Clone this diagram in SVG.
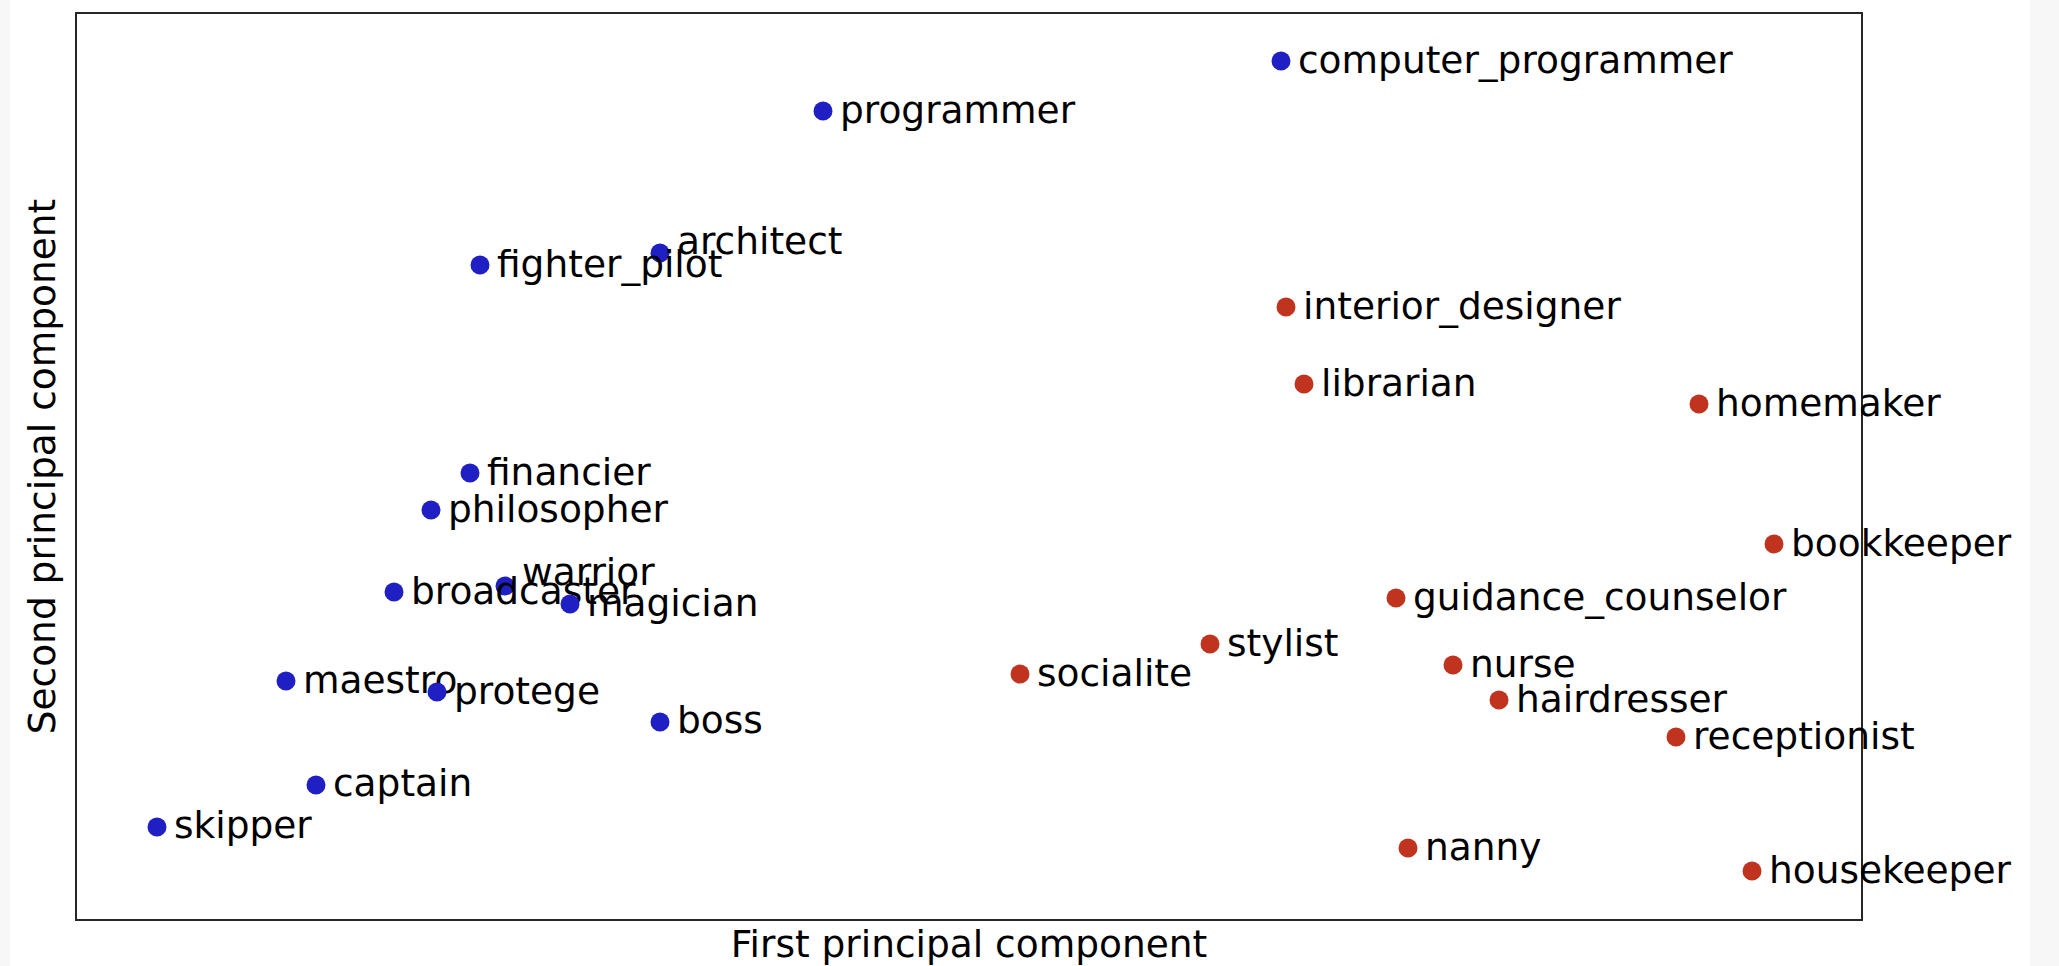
<svg xmlns="http://www.w3.org/2000/svg" width="2059" height="966" viewBox="0 0 2059 966">
<style>
.lbl{font-family:"DejaVu Sans",sans-serif;font-size:37.5px;fill:#000}
.b{fill:#1f1fc4}
.r{fill:#c0341f}
</style>
<rect x="0" y="0" width="2059" height="966" fill="#ffffff"/>
<rect x="0" y="0" width="10" height="966" fill="#f7f7f7"/>
<rect x="2030" y="0" width="29" height="966" fill="#f7f7f7"/>
<g id="axes">
<rect x="76" y="13" width="1786" height="907" fill="none" stroke="#262626" stroke-width="2"/>
<text class="lbl" x="969" y="957" text-anchor="middle">First principal component</text>
<text class="lbl" x="55" y="466.5" text-anchor="middle" transform="rotate(-90 55 466.5)">Second principal component</text>
</g>
<g id="connectors"></g>
<g id="n-computer_programmer"><circle class="b" cx="1281" cy="61" r="9.5"/><text class="lbl" x="1298" y="73">computer_programmer</text></g>
<g id="n-programmer"><circle class="b" cx="823" cy="111" r="9.5"/><text class="lbl" x="840" y="123">programmer</text></g>
<g id="n-architect"><circle class="b" cx="660" cy="253" r="9.5"/><text class="lbl" x="677" y="254">architect</text></g>
<g id="n-fighter_pilot"><circle class="b" cx="480" cy="265" r="9.5"/><text class="lbl" x="497" y="277">fighter_pilot</text></g>
<g id="n-financier"><circle class="b" cx="470" cy="473" r="9.5"/><text class="lbl" x="487" y="485">financier</text></g>
<g id="n-philosopher"><circle class="b" cx="431" cy="510" r="9.5"/><text class="lbl" x="448" y="522">philosopher</text></g>
<g id="n-warrior"><circle class="b" cx="505" cy="586" r="9.5"/><text class="lbl" x="522" y="585">warrior</text></g>
<g id="n-broadcaster"><circle class="b" cx="394" cy="592" r="9.5"/><text class="lbl" x="411" y="604">broadcaster</text></g>
<g id="n-magician"><circle class="b" cx="570" cy="604" r="9.5"/><text class="lbl" x="587" y="616">magician</text></g>
<g id="n-maestro"><circle class="b" cx="286" cy="681" r="9.5"/><text class="lbl" x="303" y="693">maestro</text></g>
<g id="n-protege"><circle class="b" cx="437" cy="692" r="9.5"/><text class="lbl" x="454" y="704">protege</text></g>
<g id="n-boss"><circle class="b" cx="660" cy="722" r="9.5"/><text class="lbl" x="677" y="733">boss</text></g>
<g id="n-captain"><circle class="b" cx="316" cy="785" r="9.5"/><text class="lbl" x="333" y="796">captain</text></g>
<g id="n-skipper"><circle class="b" cx="157" cy="827" r="9.5"/><text class="lbl" x="174" y="838">skipper</text></g>
<g id="n-interior_designer"><circle class="r" cx="1286" cy="307" r="9.5"/><text class="lbl" x="1303" y="319">interior_designer</text></g>
<g id="n-librarian"><circle class="r" cx="1304" cy="384" r="9.5"/><text class="lbl" x="1321" y="396">librarian</text></g>
<g id="n-homemaker"><circle class="r" cx="1699" cy="404" r="9.5"/><text class="lbl" x="1716" y="416">homemaker</text></g>
<g id="n-bookkeeper"><circle class="r" cx="1774" cy="544" r="9.5"/><text class="lbl" x="1791" y="556">bookkeeper</text></g>
<g id="n-guidance_counselor"><circle class="r" cx="1396" cy="598" r="9.5"/><text class="lbl" x="1413" y="610">guidance_counselor</text></g>
<g id="n-stylist"><circle class="r" cx="1210" cy="644" r="9.5"/><text class="lbl" x="1227" y="656">stylist</text></g>
<g id="n-socialite"><circle class="r" cx="1020" cy="674" r="9.5"/><text class="lbl" x="1037" y="686">socialite</text></g>
<g id="n-nurse"><circle class="r" cx="1453" cy="665" r="9.5"/><text class="lbl" x="1470" y="677">nurse</text></g>
<g id="n-hairdresser"><circle class="r" cx="1499" cy="700" r="9.5"/><text class="lbl" x="1516" y="712">hairdresser</text></g>
<g id="n-receptionist"><circle class="r" cx="1676" cy="737" r="9.5"/><text class="lbl" x="1693" y="749">receptionist</text></g>
<g id="n-nanny"><circle class="r" cx="1408" cy="848" r="9.5"/><text class="lbl" x="1425" y="860">nanny</text></g>
<g id="n-housekeeper"><circle class="r" cx="1752" cy="871" r="9.5"/><text class="lbl" x="1769" y="883">housekeeper</text></g>
</svg>
